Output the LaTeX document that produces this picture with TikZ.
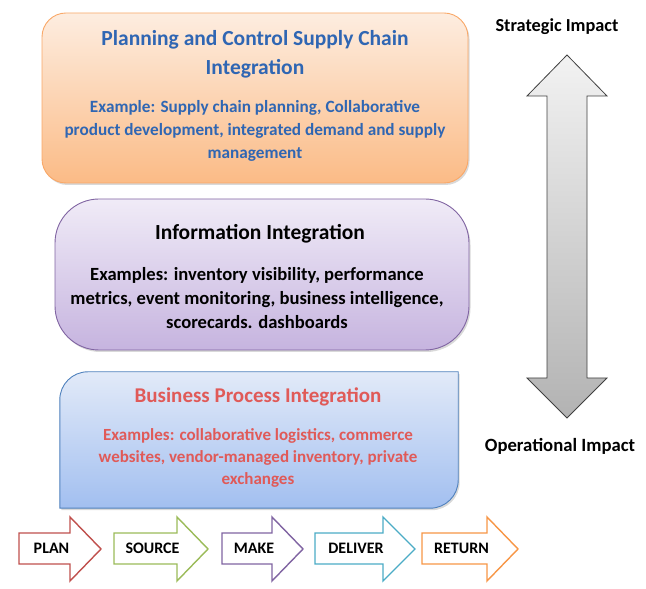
\documentclass[tikz,border=0pt]{standalone}
\usepackage{fontspec}
\setmainfont{Carlito}
\usetikzlibrary{shadows}

\definecolor{peachline}{HTML}{F9A868}
\definecolor{peachtop}{HTML}{FDEDE0}
\definecolor{peachbot}{HTML}{FBBB86}
\definecolor{lilacline}{HTML}{8064A2}
\definecolor{lilactop}{HTML}{F0EBF7}
\definecolor{lilacbot}{HTML}{C6B4DF}
\definecolor{skyline}{HTML}{4F81BD}
\definecolor{skytop}{HTML}{E2EAF8}
\definecolor{skybot}{HTML}{A2BFF0}
\definecolor{titleblue}{HTML}{2F66B3}
\definecolor{titlered}{HTML}{E05A58}
\definecolor{planred}{HTML}{C0504D}
\definecolor{sourcegreen}{HTML}{9BBB59}
\definecolor{makepurple}{HTML}{8064A2}
\definecolor{delivercyan}{HTML}{4BACC6}
\definecolor{returnorange}{HTML}{F79646}

\begin{document}
\begin{tikzpicture}[x=1pt,y=1pt,
    layerbox/.style={line width=0.9pt,drop shadow={shadow xshift=1.5pt,shadow yshift=-2pt,opacity=0.3}},
    headline/.style={align=center,font=\bfseries\fontsize{21.5}{29}\selectfont},
    detail/.style={align=center,font=\bfseries\fontsize{17.2}{23}\selectfont},
    impact/.style={font=\bfseries\fontsize{18.3}{20}\selectfont},
    stagebox/.style={line width=1.4pt,fill=white,line join=miter},
    stagetext/.style={font=\bfseries\fontsize{16}{18}\selectfont}]
    \useasboundingbox (0,0) rectangle (646,589);

    \node[layerbox,rounded corners=24pt,draw=peachline,top color=peachtop,bottom color=peachbot,
        minimum width=426pt,minimum height=170pt] (planning) at (255,491) {};
    \node[headline,text=titleblue] (planningtitle) at (255,535) {Planning and Control Supply Chain\\Integration};
    \node[detail,text=titleblue] (planningdetail) at (255,458) {Example: Supply chain planning, Collaborative\\
        product development, integrated demand and supply\\management};

    \node[layerbox,rounded corners=44pt,draw=lilacline,top color=lilactop,bottom color=lilacbot,
        minimum width=414pt,minimum height=151pt] (information) at (262,314.5) {};
    \node[headline,text=black] (informationtitle) at (260,355) {Information Integration};
    \node[detail,font=\bfseries\fontsize{18.6}{24}\selectfont,text=black] (informationdetail) at (257,291) {Examples: inventory visibility, performance\\
        metrics, event monitoring, business intelligence,\\scorecards. dashboards};

    \node[minimum width=398pt,minimum height=136pt] (process) at (259,149) {};
    \draw[layerbox,draw=skyline,top color=skytop,bottom color=skybot]
        (process.south west) -- ([yshift=-28pt]process.north west) arc[start angle=180,end angle=90,radius=28pt]
        -- (process.north east) -- ([yshift=28pt]process.south east) arc[start angle=0,end angle=-90,radius=28pt] -- cycle;
    \node[headline,font=\bfseries\fontsize{21}{29}\selectfont,text=titlered] (processtitle) at (258,192) {Business Process Integration};
    \node[detail,font=\bfseries\fontsize{17}{22}\selectfont,text=titlered] (processdetail) at (258,131) {Examples: collaborative logistics, commerce\\
        websites, vendor-managed inventory, private\\exchanges};

    \draw[line width=0.8pt,draw=black!75,top color=black!5,bottom color=black!30,line join=miter]
        (567,534) -- (607,493) -- (587,493) -- (587,211) -- (607,211) -- (567,171)
        -- (527,211) -- (547,211) -- (547,493) -- (527,493) -- cycle;
    \node[impact] (strategic) at (557,562) {Strategic Impact};
    \node[impact,font=\bfseries\fontsize{18.7}{20}\selectfont] (operational) at (560,143) {Operational Impact};

    \foreach \x/\s/\t/\c/\lab/\n in {19/70/101/planred/PLAN/plan,114/177/208/sourcegreen/SOURCE/source,
        222/272/303/makepurple/MAKE/make,315/383/415/delivercyan/DELIVER/deliver,422/487/518/returnorange/RETURN/return}
    {
        \draw[stagebox,draw=\c] (\x,56) -- (\s,56) -- (\s,72) -- (\t,40) -- (\s,8) -- (\s,25) -- (\x,25) -- cycle;
        \node[stagetext] (\n) at ({(\x+\s)/2+7},41) {\lab};
    }
\end{tikzpicture}
\end{document}
